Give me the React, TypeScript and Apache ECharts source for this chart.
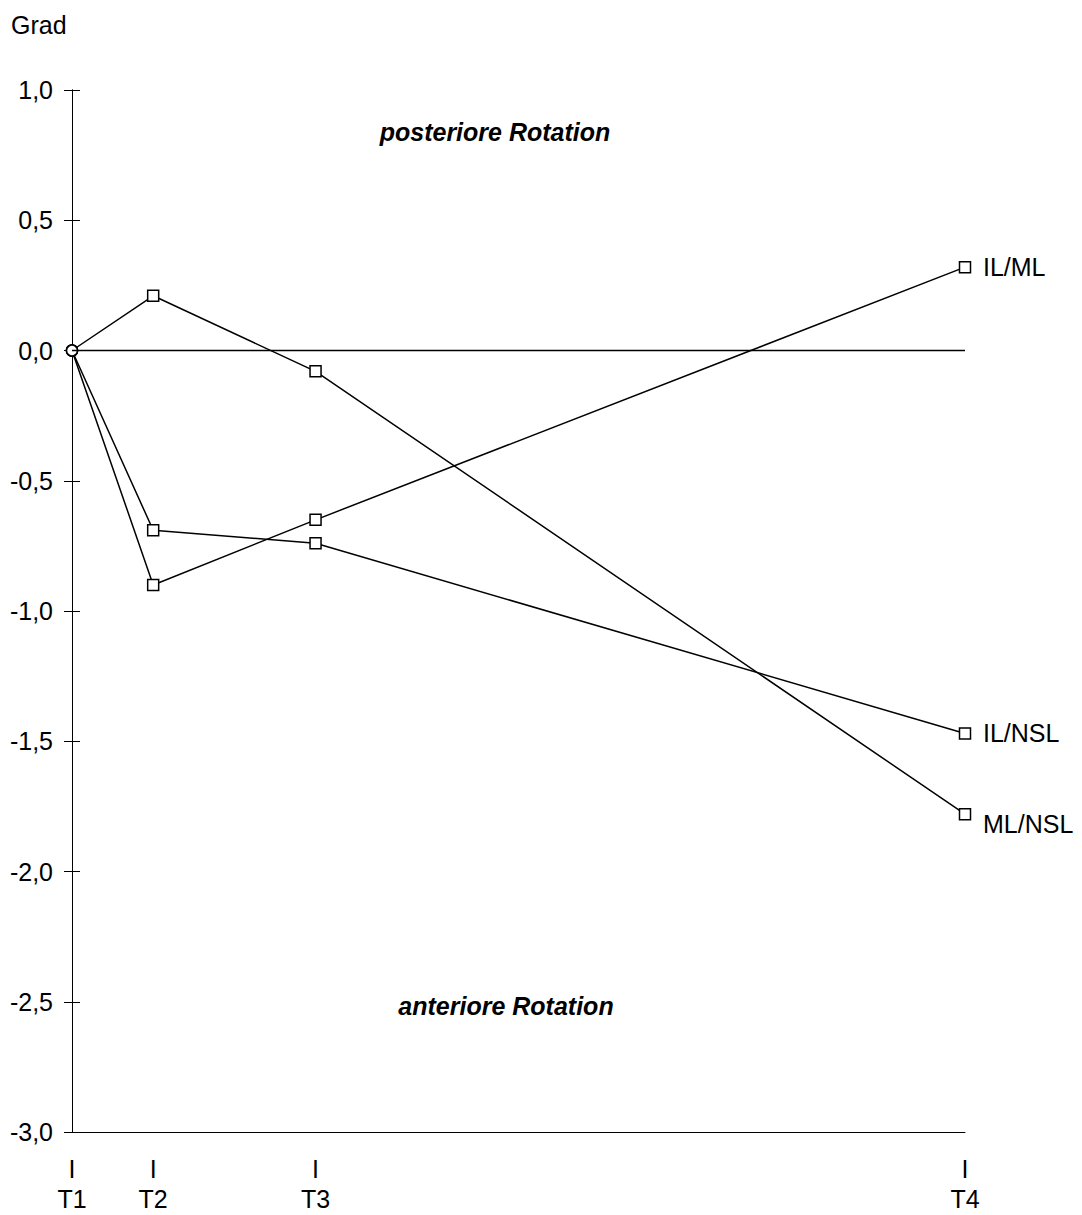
import React, { useEffect, useRef } from "react";
import * as echarts from "echarts";

const timeLabels = ["T1", "T2", "T3", "T4"];
const timePos = [0, 1, 3, 11];
const seriesNames = ["IL/ML", "IL/NSL", "ML/NSL"];
const ilMl = [0, -0.9, -0.65, 0.32];
const ilNsl = [0, -0.69, -0.74, -1.47];
const mlNsl = [0, 0.21, -0.08, -1.78];
const yTicks = { min: -3, max: 1, interval: 0.5 };
const regionLabels = ["posteriore Rotation", "anteriore Rotation"];
const unitLabel = "Grad";

const FONT = "'Liberation Sans', Arial, sans-serif";
const FS = 25;

export default function App() {
  const ref = useRef<HTMLDivElement>(null);
  useEffect(() => {
    document.body.style.margin = "0";
    const chart = echarts.init(ref.current!, null, { renderer: "svg" });
    const allSeries = [ilMl, ilNsl, mlNsl];
    const labelOffsets = [[10, 0], [10, 0], [10, 10]];
    const series: any[] = allSeries.map((vals, si) => ({
      name: seriesNames[si],
      type: "line",
      yAxisIndex: 0,
      data: vals.map((v, i) =>
        i === 0
          ? { value: [timePos[i], v], symbol: "circle", symbolSize: 11 }
          : { value: [timePos[i], v] }
      ),
      symbol: "rect",
      symbolSize: 11,
      showAllSymbol: true,
      lineStyle: { color: "#000", width: 1.5 },
      itemStyle: { color: "#fff", borderColor: "#000", borderWidth: 1.5 },
      endLabel: {
        show: true,
        formatter: seriesNames[si],
        color: "#000",
        fontSize: FS,
        fontFamily: FONT,
        offset: labelOffsets[si],
      },
      emphasis: { disabled: true },
      z: 3,
    }));
    series.push({
      type: "line",
      data: [],
      yAxisIndex: 0,
      markLine: {
        silent: true,
        symbol: ["none", "none"],
        label: { show: false },
        lineStyle: { color: "#000", width: 1.3, type: "solid" },
        data: [{ yAxis: 0 }],
      },
      z: 1,
    });
    const axisCommon = {
      type: "value",
      min: yTicks.min,
      max: yTicks.max,
      interval: yTicks.interval,
      position: "left",
      splitLine: { show: false },
      axisLine: { show: true, lineStyle: { color: "#000", width: 1 } },
    };
    const regionStyle = {
      fontSize: FS,
      fontFamily: FONT,
      fontWeight: "bold",
      fontStyle: "italic",
      fill: "#000",
      align: "center",
      verticalAlign: "middle",
    };
    chart.setOption({
      animation: false,
      grid: {
        left: 72,
        top: 90,
        right: 117,
        bottom: 83,
        containLabel: false,
        outerBoundsMode: "none",
      },
      xAxis: {
        type: "value",
        min: timePos[0],
        max: timePos[timePos.length - 1],
        interval: 1,
        splitLine: { show: false },
        axisTick: { show: false },
        axisLine: { show: true, onZero: false, lineStyle: { color: "#000", width: 1 } },
        axisLabel: {
          margin: 22,
          color: "#000",
          fontSize: FS,
          fontFamily: FONT,
          lineHeight: 30,
          showMinLabel: true,
          showMaxLabel: true,
          formatter: (v: number) => {
            const idx = timePos.indexOf(Math.round(v * 1000) / 1000);
            return idx >= 0 ? "I\n" + timeLabels[idx] : "";
          },
        },
      },
      yAxis: [
        {
          ...axisCommon,
          axisTick: { show: true, inside: false, length: 8, lineStyle: { color: "#000" } },
          axisLabel: {
            margin: 19,
            color: "#000",
            fontSize: FS,
            fontFamily: FONT,
            formatter: (v: number) => v.toFixed(1).replace(".", ","),
          },
        },
        {
          ...axisCommon,
          axisTick: { show: true, inside: true, length: 8, lineStyle: { color: "#000" } },
          axisLabel: { show: false },
        },
      ],
      graphic: [
        {
          type: "text",
          x: 11,
          y: 25,
          style: { text: unitLabel, fontSize: FS, fontFamily: FONT, fill: "#000", verticalAlign: "middle" },
        },
        {
          type: "text",
          x: 495,
          y: 132,
          style: { ...regionStyle, text: regionLabels[0] },
        },
        {
          type: "text",
          x: 506,
          y: 1006,
          style: { ...regionStyle, text: regionLabels[1] },
        },
      ],
      series,
    });
    return () => chart.dispose();
  }, []);
  return <div ref={ref} style={{ width: 1082, height: 1215, background: "#fff" }} />;
}
